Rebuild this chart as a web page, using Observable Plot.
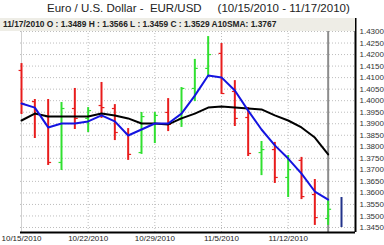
<!DOCTYPE html>
<html><head><meta charset="utf-8">
<script src="https://cdn.jsdelivr.net/npm/d3@7"></script>
<script src="https://cdn.jsdelivr.net/npm/@observablehq/plot@0.6"></script>
<style>
body{margin:0;background:#fff;width:384px;height:245px;overflow:hidden;position:relative;font-family:"Liberation Sans",Arial,sans-serif;}
#title{height:17px;line-height:17px;font-size:11.5px;color:#222;white-space:pre;padding-left:47px;}
#hdr{position:absolute;left:0;top:18px;width:355px;height:13px;background:#eeede6;font:bold 8.4px "Liberation Sans",Arial,sans-serif;line-height:13px;padding-left:3px;box-sizing:border-box;white-space:pre;color:#222;}
svg{display:block;}
</style></head><body>
<div id="title">Euro / U.S. Dollar -  EUR/USD     (10/15/2010 - 11/17/2010)</div>
<div id="chart"></div>
<div id="hdr"></div>
<script>
const dates = ["10/15/2010","10/18/2010","10/19/2010","10/20/2010","10/21/2010","10/22/2010","10/25/2010","10/26/2010","10/27/2010","10/28/2010","10/29/2010","11/1/2010","11/2/2010","11/3/2010","11/4/2010","11/5/2010","11/8/2010","11/9/2010","11/10/2010","11/11/2010","11/12/2010","11/15/2010","11/16/2010","11/17/2010"];
const open  = [1.4131,1.3996,1.3931,1.3732,1.3966,1.3923,1.3979,1.3966,1.3858,1.3775,1.3901,1.3949,1.3923,1.4053,1.4140,1.4205,1.4040,1.3927,1.3775,1.3788,1.3667,1.3741,1.3593,1.3489];
const high  = [1.4161,1.4005,1.4005,1.3992,1.4053,1.3970,1.4079,1.3983,1.3879,1.3949,1.3949,1.4009,1.4057,1.4179,1.4278,1.4248,1.4087,1.3970,1.3823,1.3819,1.3762,1.3754,1.3658,1.3566];
const low   = [1.3940,1.3836,1.3719,1.3697,1.3875,1.3862,1.3923,1.3827,1.3741,1.3767,1.3814,1.3866,1.3884,1.3996,1.4101,1.4027,1.3888,1.3758,1.3675,1.3641,1.3580,1.3571,1.3459,1.3459];
const close = [1.3988,1.3944,1.3732,1.3966,1.3923,1.3957,1.3970,1.3862,1.3767,1.3931,1.3936,1.3897,1.4053,1.4140,1.4200,1.4031,1.3923,1.3771,1.3788,1.3667,1.3701,1.3584,1.3493,1.3529];
const sma10 = [1.3914,1.3944,1.3931,1.3931,1.3931,1.3931,1.3944,1.3936,1.3923,1.3901,1.3901,1.3897,1.3923,1.3944,1.3970,1.3975,1.3970,1.3966,1.3962,1.3936,1.3914,1.3884,1.3840,1.3767];
const blueAvg = [1.3988,1.3970,1.3884,1.3901,1.3901,1.3910,1.3936,1.3910,1.3849,1.3875,1.3901,1.3901,1.3944,1.4022,1.4109,1.4101,1.4044,1.3957,1.3875,1.3806,1.3749,1.3684,1.3606,1.3571];
const nextDay = {label:"11/18/2010", high:1.3580, low:1.3450};
const yTicks = [1.3450,1.3500,1.3550,1.3600,1.3650,1.3700,1.3750,1.3800,1.3850,1.3900,1.3950,1.4000,1.4050,1.4100,1.4150,1.4200,1.4250,1.4300];
const xTickLabels = ["10/15/2010","10/22/2010","10/29/2010","11/5/2010","11/12/2010"];

const bars = dates.map((d,i)=>({i, d, o:open[i], h:high[i], l:low[i], c:close[i], sma:sma10[i], avg:blueAvg[i], up: close[i]>=open[i]}));
const nextBar = [{i: dates.length, h: nextDay.high, l: nextDay.low}];
const xTickIdx = xTickLabels.map(l => dates.indexOf(l));
const yDomain = [d3.min(yTicks) - 0.00217, d3.max(yTicks) + 0.00564];
const xDomain = [-0.075, dates.length + 1.05];
const lastIdx = dates.length - 1;
const RED = "#e81c1c", GREEN = "#30e030";

const chart = Plot.plot({
  width: 384, height: 228,
  marginLeft: 20, marginRight: 29, marginTop: 1, marginBottom: 13,
  style: {fontFamily: "Liberation Sans, Arial, sans-serif", fontSize: "8px", color: "#333", background: "#fff", overflow: "visible"},
  x: {type: "linear", domain: xDomain, label: null},
  y: {domain: yDomain, label: null},
  marks: [
    Plot.gridY(yTicks, {stroke: "#bdbdbd", strokeOpacity: 1, strokeDasharray: "1,2"}),
    Plot.gridX(xTickIdx, {stroke: "#bdbdbd", strokeOpacity: 1, strokeDasharray: "1,2"}),
    Plot.ruleX([0], {stroke: "#d0d0d0"}),
    Plot.ruleX([lastIdx], {stroke: "#8c8c8c", strokeWidth: 2}),
    Plot.ruleX(bars, {x: "i", y1: "l", y2: "h", stroke: d => d.up ? GREEN : RED, strokeWidth: 2}),
    Plot.link(bars, {x1: d => d.i - 0.22, x2: "i", y1: "o", y2: "o", stroke: d => d.up ? GREEN : RED, strokeWidth: 1.2}),
    Plot.link(bars, {x1: "i", x2: d => d.i + 0.22, y1: "c", y2: "c", stroke: d => d.up ? GREEN : RED, strokeWidth: 1.2}),
    Plot.ruleX(nextBar, {x: "i", y1: "l", y2: "h", stroke: "#22338a", strokeWidth: 2}),
    Plot.line(bars, {x: "i", y: "sma", stroke: "#000", strokeWidth: 2}),
    Plot.line(bars, {x: "i", y: "avg", stroke: "#1414e0", strokeWidth: 2}),
    Plot.ruleY([yDomain[0]], {stroke: "#000", strokeWidth: 2}),
    Plot.ruleX([xDomain[1]], {stroke: "#000", strokeWidth: 2}),
    Plot.axisY(yTicks, {anchor: "right", label: null, tickSize: 0, tickPadding: 4, tickFormat: d => d.toFixed(4), fontSize: 8, fill: "#333"}),
    Plot.axisX(xTickIdx, {anchor: "bottom", label: null, tickSize: 0, tickPadding: 3, tickFormat: i => dates[i], fontSize: 8, fill: "#222"})
  ]
});
document.getElementById("chart").appendChild(chart);
const L = lastIdx;
document.getElementById("hdr").textContent =
  `${dates[L]} O : ${open[L].toFixed(4)} H : ${high[L].toFixed(4)} L : ${low[L].toFixed(4)} C : ${close[L].toFixed(4)} A10SMA: ${sma10[L].toFixed(4)}`;
</script>
</body></html>
